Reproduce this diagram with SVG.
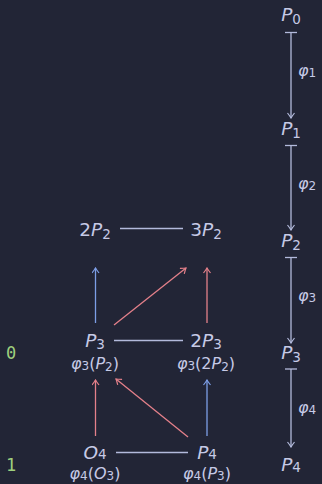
<svg xmlns="http://www.w3.org/2000/svg" width="322" height="484" viewBox="0 0 322 484">
<defs>
<style>
.t{font-family:"DejaVu Sans","Noto Sans",sans-serif;fill:#c6cae6;}
.m{font-size:18.5px;}
.s{font-size:16px;}
.i{font-style:italic;}
.sub{font-size:13.5px;}
.ss{font-size:12px;}
.g{font-family:"DejaVu Sans Mono","Liberation Mono",monospace;font-size:17px;fill:#9fd07e;}
.ln{stroke:#b3badc;stroke-width:1.3;fill:none;}
.bl{stroke:#7d9ee6;stroke-width:1.3;fill:none;}
.rd{stroke:#e4808a;stroke-width:1.3;fill:none;}
</style>
<marker id="ahl" viewBox="-6 -4 7 8" markerWidth="7" markerHeight="8" refX="0" refY="0" orient="auto" markerUnits="userSpaceOnUse">
<path d="M-5,-3.5 Q-1.5,-0.8 0,0 Q-1.5,0.8 -5,3.5" fill="none" stroke="#b3badc" stroke-width="1.2"/>
</marker>
<marker id="ahb" viewBox="-6 -4 7 8" markerWidth="7" markerHeight="8" refX="0" refY="0" orient="auto" markerUnits="userSpaceOnUse">
<path d="M-5,-3.5 Q-1.5,-0.8 0,0 Q-1.5,0.8 -5,3.5" fill="none" stroke="#7d9ee6" stroke-width="1.2"/>
</marker>
<marker id="ahr" viewBox="-6 -4 7 8" markerWidth="7" markerHeight="8" refX="0" refY="0" orient="auto" markerUnits="userSpaceOnUse">
<path d="M-5,-3.5 Q-1.5,-0.8 0,0 Q-1.5,0.8 -5,3.5" fill="none" stroke="#e4808a" stroke-width="1.2"/>
</marker>
</defs>
<rect width="322" height="484" fill="#222536"/>

<g id="connectors">
<line class="ln" x1="120" y1="228.5" x2="183" y2="228.5"/>
<line class="ln" x1="114" y1="340.5" x2="183" y2="340.5"/>
<line class="ln" x1="116" y1="452.5" x2="188" y2="452.5"/>
<line class="bl" x1="95.5" y1="323" x2="95.5" y2="268" marker-end="url(#ahb)"/>
<line class="rd" x1="114" y1="325" x2="186" y2="268" marker-end="url(#ahr)"/>
<line class="rd" x1="207" y1="323" x2="207" y2="268" marker-end="url(#ahr)"/>
<line class="rd" x1="95.5" y1="436" x2="95.5" y2="380" marker-end="url(#ahr)"/>
<line class="rd" x1="188" y1="437" x2="116" y2="379" marker-end="url(#ahr)"/>
<line class="bl" x1="207" y1="436" x2="207" y2="380" marker-end="url(#ahb)"/>
<g id="maps">
<line class="ln" x1="285" y1="32.5" x2="297" y2="32.5"/>
<line class="ln" x1="291" y1="32.5" x2="291" y2="118" marker-end="url(#ahl)"/>
<line class="ln" x1="285" y1="145.5" x2="297" y2="145.5"/>
<line class="ln" x1="291" y1="145.5" x2="291" y2="230" marker-end="url(#ahl)"/>
<line class="ln" x1="285" y1="257.5" x2="297" y2="257.5"/>
<line class="ln" x1="291" y1="257.5" x2="291" y2="343" marker-end="url(#ahl)"/>
<line class="ln" x1="285" y1="369" x2="297" y2="369"/>
<line class="ln" x1="291" y1="369" x2="291" y2="447" marker-end="url(#ahl)"/>
</g>
</g>

<g id="n-2P2"><text class="t m" x="95" y="236" text-anchor="middle">2<tspan class="i">P</tspan><tspan class="sub" dy="3">2</tspan></text></g>
<g id="n-3P2"><text class="t m" x="206" y="236" text-anchor="middle">3<tspan class="i">P</tspan><tspan class="sub" dy="3">2</tspan></text></g>
<g id="n-P3"><text class="t m" x="95" y="347" text-anchor="middle"><tspan class="i">P</tspan><tspan class="sub" dy="2">3</tspan></text>
<text class="t s" x="95" y="369" text-anchor="middle"><tspan class="i">φ</tspan><tspan class="ss" dy="1">3</tspan><tspan dy="-1">(</tspan><tspan class="i">P</tspan><tspan class="ss" dy="2">2</tspan><tspan dy="-2">)</tspan></text></g>
<g id="n-2P3"><text class="t m" x="206" y="347" text-anchor="middle">2<tspan class="i">P</tspan><tspan class="sub" dy="2">3</tspan></text>
<text class="t s" x="206" y="369" text-anchor="middle"><tspan class="i">φ</tspan><tspan class="ss" dy="1">3</tspan><tspan dy="-1">(2</tspan><tspan class="i">P</tspan><tspan class="ss" dy="2">2</tspan><tspan dy="-2">)</tspan></text></g>
<g id="n-O4"><text class="t m" x="95" y="459" text-anchor="middle"><tspan class="i">O</tspan><tspan class="sub">4</tspan></text>
<text class="t s" x="95" y="479" text-anchor="middle"><tspan class="i">φ</tspan><tspan class="ss" dy="1">4</tspan><tspan dy="-1">(</tspan><tspan class="i">O</tspan><tspan class="ss" dy="1">3</tspan><tspan dy="-1">)</tspan></text></g>
<g id="n-P4"><text class="t m" x="207" y="459" text-anchor="middle"><tspan class="i">P</tspan><tspan class="sub">4</tspan></text>
<text class="t s" x="207" y="479" text-anchor="middle"><tspan class="i">φ</tspan><tspan class="ss" dy="1">4</tspan><tspan dy="-1">(</tspan><tspan class="i">P</tspan><tspan class="ss" dy="1">3</tspan><tspan dy="-1">)</tspan></text></g>

<g id="n-P0"><text class="t m" x="291" y="21" text-anchor="middle"><tspan class="i">P</tspan><tspan class="sub" dy="3">0</tspan></text></g>
<g id="n-P1"><text class="t m" x="291" y="135" text-anchor="middle"><tspan class="i">P</tspan><tspan class="sub" dy="3">1</tspan></text></g>
<g id="n-P2"><text class="t m" x="291" y="247" text-anchor="middle"><tspan class="i">P</tspan><tspan class="sub" dy="3">2</tspan></text></g>
<g id="n-P3r"><text class="t m" x="291" y="359" text-anchor="middle"><tspan class="i">P</tspan><tspan class="sub" dy="3">3</tspan></text></g>
<g id="n-P4r"><text class="t m" x="291" y="471" text-anchor="middle"><tspan class="i">P</tspan><tspan class="sub" dy="1">4</tspan></text></g>

<g id="labels">
<text class="t s" x="298" y="76"><tspan class="i">φ</tspan><tspan class="ss" dy="1">1</tspan></text>
<text class="t s" x="298" y="189"><tspan class="i">φ</tspan><tspan class="ss" dy="1">2</tspan></text>
<text class="t s" x="298" y="301"><tspan class="i">φ</tspan><tspan class="ss" dy="1">3</tspan></text>
<text class="t s" x="298" y="413"><tspan class="i">φ</tspan><tspan class="ss" dy="1">4</tspan></text>
<text class="g" x="11" y="359" text-anchor="middle">0</text>
<text class="g" x="11" y="471" text-anchor="middle">1</text>
</g>
</svg>
